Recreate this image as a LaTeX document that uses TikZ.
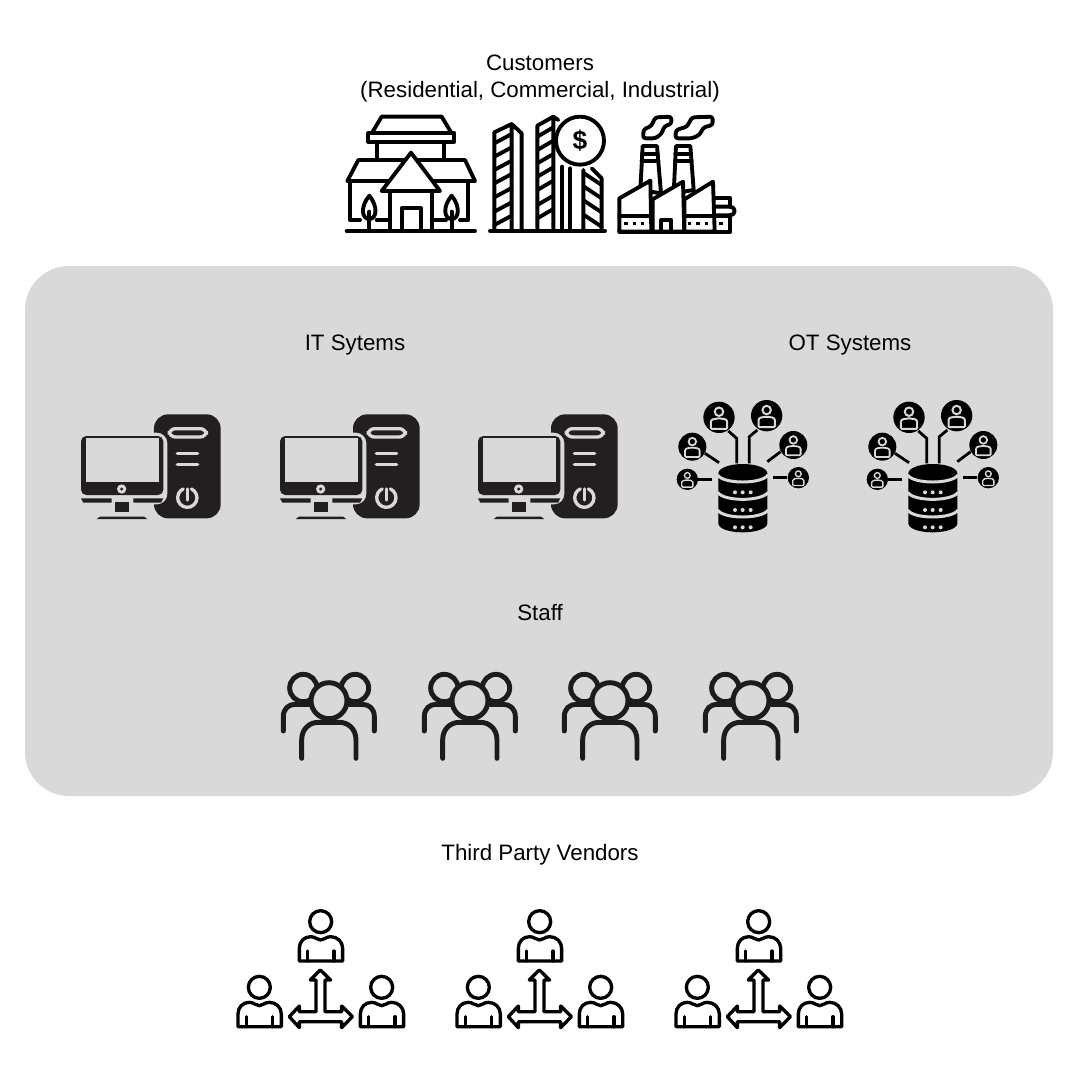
\documentclass[tikz,border=0pt]{standalone}
\usepackage{fontspec}
\setmainfont{Liberation Sans}
\definecolor{panel}{HTML}{D9D9D9}
\definecolor{pcdark}{HTML}{231F20}
\definecolor{staffdark}{HTML}{1C1C1C}
\tikzset{
  label text/.style={font=\fontsize{12.7}{15.2}\selectfont,align=center,text=black,inner sep=0pt},
  ol/.style={draw=black,line width=2.2pt,line join=round,line cap=round},
  olw/.style={ol,fill=white},
  pcgap/.style={draw=panel,line width=1.9pt,line cap=round},
  dbline/.style={draw=black,line width=1.6pt},
  pics/house/.style={code={\begin{scope}[scale=1/3]
    \draw[ol] (20,378)--(405,378);
    \draw[ol] (30,228)--(30,345)--(60,345) (385,228)--(385,345)--(360,345);
    \draw[ol] (110,345)--(150,345) (275,345)--(318,345);
    \draw[ol] (112,110)--(112,165) (312,110)--(312,165);
    \draw[olw] (125,35)--(305,35)--(335,85)--(95,85)--cycle;
    \draw[olw] (85,85)--(343,85)--(343,110)--(85,110)--cycle;
    \draw[olw] (55,165)--(375,165)--(405,228)--(22,228)--cycle;
    \draw[olw] (150,258)--(150,378) (275,258)--(275,378);
    \draw[olw] (213,143)--(300,258)--(125,258)--cycle;
    \draw[ol] (185,378)--(185,310)--(243,310)--(243,378);
    \draw[ol] (88,378)--(88,320);
    \draw[ol] (88,272) .. controls (60,305) and (65,342) .. (88,342) .. controls (110,342) and (115,305) .. (88,272) -- cycle;
    \draw[ol] (335,378)--(335,320);
    \draw[ol] (335,272) .. controls (307,305) and (312,342) .. (335,342) .. controls (357,342) and (362,305) .. (335,272) -- cycle;
  \end{scope}}},
  pics/towers/.style={code={\begin{scope}[scale=1/3]
    \draw[ol] (450,378)--(795,378);
    \draw[ol] (463,378)--(463,82)--(515,57)--(545,85)--(545,378) (515,57)--(515,378);
    \foreach \y in {115,155,195,235,277,320,360}{\draw[ol] (463,\y)--(515,\y-28);}
    \draw[ol] (592,378)--(592,62)--(640,35)--(655,45) (640,35)--(640,378);
    \foreach \y in {95,135,175,215,255,300,340}{\draw[ol] (592,\y)--(640,\y-28);}
    \draw[ol] (667,185)--(667,378) (690,190)--(690,378);
    \draw[ol] (730,195)--(730,378) (755,190)--(785,220)--(785,378);
    \foreach \y in {205,245,287,330}{\draw[ol] (732,\y)--(785,\y+35);}
    \draw[olw] (720,107) circle (72);
    \node[font=\fontsize{15}{15}\selectfont\bfseries,inner sep=0pt] (dollar) at (720,107) {\$};
  \end{scope}}},
  pics/factory/.style={code={\begin{scope}[scale=1/3]
    \draw[olw] (85,240)--(92,108)--(135,108)--(147,250)--cycle;
    \draw[ol] (90,132)--(137,132) (89,152)--(139,152);
    \draw[olw] (185,250)--(192,108)--(235,108)--(245,240)--cycle;
    \draw[ol] (190,132)--(237,132) (189,152)--(239,152);
    \draw[ol,rounded corners=1.5pt] (93,85)--(95,58)--(118,48)--(130,22)--(178,20)--(178,42)--(158,48)--(148,72)--(130,85)--cycle;
    \draw[ol,rounded corners=1.5pt] (190,85)--(192,60)--(225,50)--(240,22)--(302,20)--(302,45)--(275,52)--(262,75)--(240,85)--cycle;
    \draw[olw] (22,365)--(22,265)--(115,212)--(118,365)--cycle;
    \draw[olw] (122,365)--(122,268)--(213,215)--(217,365)--cycle;
    \draw[olw] (217,365)--(217,268)--(303,215)--(308,365)--cycle;
    \draw[ol] (22,365)--(355,365)--(355,315);
    \draw[ol] (22,318)--(118,318) (217,318)--(350,318);
    \draw[ol] (308,265)--(355,265)--(355,290);
    \draw[ol] (308,290)--(355,290) arc[start angle=-90,end angle=90,radius=13]--(308,316);
    \draw[ol] (148,365)--(148,330)--(178,330)--(178,365);
    \foreach \x in {42,67,92,232,258,283,327}{\fill (\x-5,336) rectangle (\x+5,346);}
  \end{scope}}},
  pics/pc/.style={code={\begin{scope}[scale=1/3]
    \fill[pcdark,rounded corners=8pt] (252,28) rectangle (452,340);
    \fill[panel,rounded corners=6pt] (20,83) rectangle (292,298);
    \fill[pcdark,rounded corners=3pt] (33,93) rectangle (280,270);
    \fill[panel] (48,98) rectangle (267,232);
    \fill[panel] (155,252) circle (14);
    \fill[pcdark] (155,252) circle (5);
    \fill[pcdark] (33,280)--(125,280)--(125,293)--(40,293)--cycle;
    \fill[pcdark] (190,280)--(280,280)--(273,293)--(190,293)--cycle;
    \fill[pcdark] (135,292) rectangle (178,322);
    \fill[pcdark] (80,342)--(90,335)--(222,335)--(232,342)--cycle;
    \draw[pcgap,rounded corners=3.4pt] (298,71) rectangle (409,96);
    \draw[pcgap] (322,145)--(383,145) (322,178)--(383,178);
    \draw[pcgap] (352,278) ++(-65:29) arc[start angle=-65,end angle=245,radius=29];
    \draw[pcgap] (352,252)--(352,285);
  \end{scope}}},
  pics/usr/.style={code={\begin{scope}[scale=#1/3]
    \fill[black] (0,0) circle (10);
    \draw[panel,line width=#1*0.24pt,fill=black] (0,-3.6) circle (2.7);
    \draw[panel,line width=#1*0.24pt,fill=black,rounded corners=.5pt] (-5.2,7.3)--(-5.2,3.4) .. controls (-5.2,1.2) and (-2.5,.7) .. (0,.7) .. controls (2.5,.7) and (5.2,1.2) .. (5.2,3.4) -- (5.2,7.3) -- cycle;
  \end{scope}}},
  pics/db/.style={code={\begin{scope}[scale=1/3]
    \draw[dbline] (175,108)--(200,130)--(200,205);
    \draw[dbline] (262,105)--(238,125)--(238,205);
    \draw[dbline] (105,175)--(147,203);
    \draw[dbline] (332,170)--(292,200);
    \draw[dbline] (85,253)--(127,253);
    \draw[dbline] (350,248)--(310,248);
    \pic at (147,67) {usr=4.7};
    \pic at (290,62) {usr=4.7};
    \pic at (67,155) {usr=4.2};
    \pic at (370,150) {usr=4.2};
    \pic at (52,253) {usr=3.2};
    \pic at (385,248) {usr=3.2};
    \fill[black] (145,235) arc[start angle=180,end angle=360,x radius=73.5,y radius=28]
       -- (292,385) .. controls (292,400) and (260,412) .. (218,412) .. controls (176,412) and (145,400) .. (145,385) -- cycle;
    \foreach \y in {240,292,345}{
      \draw[panel,line width=1.7pt] (143,\y) .. controls (160,\y+28) and (276,\y+28) .. (294,\y);
    }
    \foreach \y in {292,345,397}{\foreach \x in {195,218,242}{\fill[panel] (\x,\y) circle (6);}}
  \end{scope}}},
  sl/.style={draw=staffdark,line width=2.8pt,line cap=round,line join=round},
  pics/staff/.style={code={\begin{scope}[scale=1/3]
    \draw[sl] (85,69) circle (41);
    \draw[sl] (240,69) circle (41);
    \draw[sl] (25,198)--(25,155) .. controls (25,130) and (42,118) .. (60,118)--(105,118);
    \draw[sl] (298,198)--(298,155) .. controls (298,130) and (281,118) .. (262,118)--(222,118);
    \draw[sl,fill=panel] (162,107) circle (54);
    \draw[sl] (80,280)--(80,225) .. controls (80,190) and (105,172) .. (130,172)--(193,172) .. controls (218,172) and (243,190) .. (243,225)--(243,280);
  \end{scope}}},
  pics/man/.style={code={\begin{scope}[scale=1/3]
    \draw[ol,line width=1.9pt] (0,0) circle (33);
    \draw[ol,line width=1.9pt] (-64,118)--(-64,80) .. controls (-64,60) and (-50,45) .. (-30,45) .. controls (-15,45) and (-12,55) .. (0,55) .. controls (12,55) and (15,45) .. (30,45) .. controls (50,45) and (66,60) .. (66,80)--(66,118)--cycle;
    \draw[ol,line width=1.9pt] (-39,88)--(-39,118) (40,88)--(40,118);
  \end{scope}}},
  pics/vendor/.style={code={
    \pic at (272/3,50/3) {man};
    \pic at (88/3,247/3) {man};
    \pic at (455/3,247/3) {man};
    \begin{scope}[scale=1/3]
    \draw[ol,line width=1.9pt,line cap=butt,miter limit=4] (271,195)--(302,225)--(285,225)--(285,320)--(335,320)--(335,303)--(367,335)--(335,368)--(335,350)--(208,350)--(208,368)--(178,335)--(208,303)--(208,320)--(258,320)--(258,225)--(241,225)--cycle;
    \end{scope}
  }}
}
\begin{document}
\begin{tikzpicture}[x=0.02cm,y=-0.02cm]
\useasboundingbox (0,0) rectangle (1080,1080);
\fill[white] (0,0) rectangle (1080,1080);
\fill[panel,rounded corners=25pt] (25,266) rectangle (1053,796);
\node[label text] (customers) at (540,78.5) {Customers\\(Residential, Commercial, Industrial)};
\node[label text] (it) at (355,345.5) {IT Sytems};
\node[label text] (ot) at (850,345.5) {OT Systems};
\node[label text] (staff) at (540,612.5) {Staff};
\node[label text] (vendors) at (540,854.5) {Third Party Vendors};
\pic at (340,105) {house};
\pic at (340,105) {towers};
\pic at (612,110) {factory};
\foreach \dx in {70,269,467}{\pic at (\dx,405) {pc};}
\foreach \dx in {670,860}{\pic at (\dx,395) {db};}
\foreach \dx in {275,416,556,697}{\pic at (\dx,665) {staff};}
\foreach \dx in {230,449,668}{\pic at (\dx,905) {vendor};}
\end{tikzpicture}
\end{document}
